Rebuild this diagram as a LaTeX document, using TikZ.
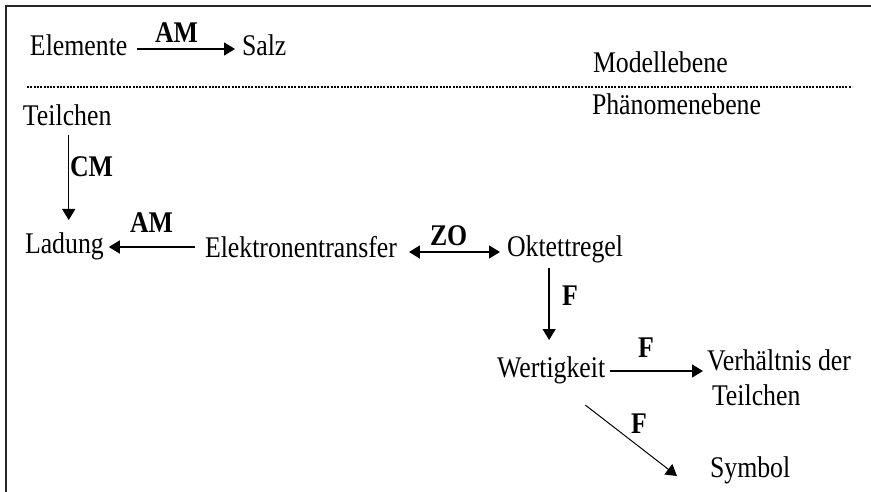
\documentclass[tikz,border=0pt]{standalone}
\usepackage{fontspec}
\setmainfont{Liberation Serif}[FakeStretch=0.86]
\usetikzlibrary{arrows.meta}
\begin{document}
\begin{tikzpicture}[x=1pt,y=-1pt,
  txt/.style={inner sep=0pt, outer sep=0pt, anchor=base west, font=\fontsize{30}{36}\selectfont},
  lab/.style={txt, font=\fontsize{30}{36}\selectfont\bfseries},
  tipA/.tip={Triangle[length=11pt,width=13pt]},
  arr/.style={line width=1.5pt, -tipA},
  darr/.style={line width=1.5pt, tipA-tipA},
  thinarr/.style={line width=1pt, -tipA}]
\useasboundingbox (0,0) rectangle (871,492);
% frame
\draw[line width=2pt, black!85] (6,492) -- (6,6) -- (871,6);
% dotted separator
\draw[line width=2pt, dash pattern=on 2pt off 1.3pt] (27,87) -- (852,87);
% text nodes
\node[txt] (elem) at (30,56) {Elemente};
\node[txt] (salz) at (242,56) {Salz};
\node[txt] (modell) at (593,73) {Modellebene};
\node[txt] (phaen) at (592,115) {Phänomenebene};
\node[txt] (teil) at (23,126) {Teilchen};
\node[txt] (lad) at (25,253) {Ladung};
\node[txt] (elek) at (205,258) {Elektronentransfer};
\node[txt] (okt) at (507,257) {Oktettregel};
\node[txt] (wert) at (497,377) {Wertigkeit};
\node[txt] (verh) at (707,370) {Verhältnis der};
\node[txt] (verh2) at (712,405) {Teilchen};
\node[txt] (sym) at (710,477) {Symbol};
% labels
\node[lab] (am1) at (155,43) {AM};
\node[lab] (cm) at (70,177) {CM};
\node[lab] (am2) at (130,233) {AM};
\node[lab] (zo) at (430,246) {ZO};
\node[lab] (f1) at (562,305) {F};
\node[lab] (f2) at (638,357) {F};
\node[lab] (f3) at (631,433) {F};
% connectors
\draw[arr] ([xshift=10pt,yshift=7pt]elem.base east) -- ([xshift=-7pt,yshift=7pt]salz.base west);
\draw[arr] ([xshift=1.5pt,yshift=-9pt]teil.base) -- ([xshift=1.5pt,yshift=33pt]teil.base |- lad.base);
\draw[arr] ([xshift=-10pt,yshift=11pt]elek.base west) -- ([xshift=5pt,yshift=11pt]elek.base west -| lad.base east);
\draw[darr] ([xshift=12pt,yshift=6pt]elek.base east) -- ([xshift=-7pt,yshift=6pt]elek.base east -| okt.base west);
\draw[arr] ([xshift=-2pt,yshift=-11pt]okt.base -| wert.base) -- ([xshift=-2pt,yshift=37pt]wert.base);
\draw[arr] ([xshift=5pt,yshift=6pt]wert.base east) -- ([xshift=-4pt,yshift=6pt]wert.base east -| verh.base west);
\draw[thinarr] ([xshift=-20pt,yshift=-28pt]wert.base east) -- ([xshift=-33pt,yshift=1pt]sym.base west);
\end{tikzpicture}
\end{document}
